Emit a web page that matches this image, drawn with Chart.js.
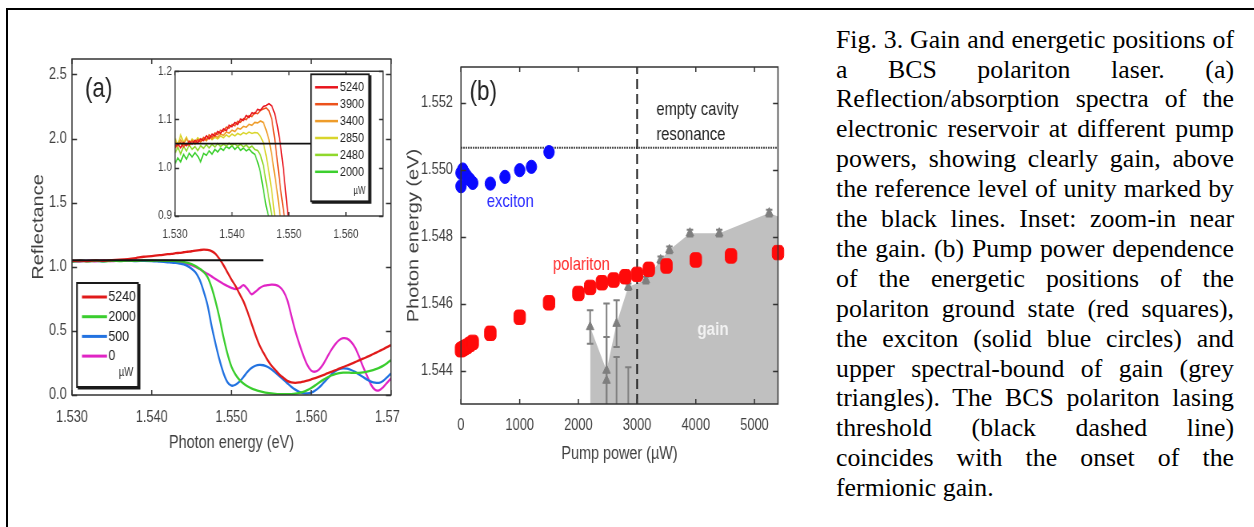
<!DOCTYPE html>
<html><head><meta charset="utf-8">
<script src="https://cdn.jsdelivr.net/npm/chart.js@4.4.1/dist/chart.umd.min.js"></script>
<style>
html,body{margin:0;padding:0;background:#fff;}
body{width:1254px;height:527px;position:relative;overflow:hidden;}
.frame{position:absolute;left:6px;top:8px;width:1300px;height:600px;border-top:2px solid #000;border-left:2px solid #000;}
canvas{position:absolute;transform:scaleX(0.8);transform-origin:0 0;}
#cap{position:absolute;left:836px;top:24.6px;width:398px;font-family:'Liberation Serif','Times New Roman',serif;font-size:25.8px;line-height:29.9px;color:#000;}
#cap div{text-align:justify;text-align-last:justify;}
#cap div.last{text-align-last:left;}
</style></head>
<body>
<div class="frame"></div>
<canvas id="cA" width="500" height="456" style="left:0;top:0"></canvas>
<canvas id="cI" width="328" height="190" style="left:130px;top:60px"></canvas>
<canvas id="cB" width="500" height="480" style="left:400px;top:0"></canvas>
<div id="cap">
<div>Fig. 3. Gain and energetic positions of</div>
<div>a BCS polariton laser. (a)</div>
<div>Reflection/absorption spectra of the</div>
<div>electronic reservoir at different pump</div>
<div>powers, showing clearly gain, above</div>
<div>the reference level of unity marked by</div>
<div>the black lines. Inset: zoom-in near</div>
<div>the gain. (b) Pump power dependence</div>
<div>of the energetic positions of the</div>
<div>polariton ground state (red squares),</div>
<div>the exciton (solid blue circles) and</div>
<div>upper spectral-bound of gain (grey</div>
<div>triangles). The BCS polariton lasing</div>
<div>threshold (black dashed line)</div>
<div>coincides with the onset of the</div>
<div class="last">fermionic gain.</div>
</div>
<script>
// ---------------- Panel (a): reflectance spectra ----------------
const mainEnergy = [1.530,1.531,1.532,1.533,1.534,1.535,1.536,1.537,1.538,1.539,1.540,1.541,1.542,
 1.5425,1.543,1.5435,1.544,1.5445,1.545,1.5455,1.546,1.5465,1.547,1.5475,1.548,1.5485,1.549,1.5495,1.550,
 1.5505,1.551,1.5515,1.552,1.5525,1.553,1.5535,1.554,1.5545,1.555,1.5555,1.556,1.5565,1.557,1.5575,1.558,
 1.5585,1.559,1.5595,1.560,1.5605,1.561,1.5615,1.562,1.5625,1.563,1.5635,1.564,1.5645,1.565,1.5655,1.566,
 1.5665,1.567,1.5675,1.568,1.5685,1.569,1.5695,1.570];
const refl5240 = [1.045,1.048,1.044,1.050,1.047,1.052,1.055,1.060,1.068,1.078,1.083,1.090,1.098,
 1.100,1.106,1.108,1.113,1.117,1.121,1.126,1.130,1.133,1.131,1.122,1.100,1.060,1.012,0.955,0.900,
 0.850,0.790,0.730,0.650,0.560,0.470,0.390,0.330,0.275,0.230,0.195,0.160,0.135,0.110,0.098,0.095,
 0.098,0.105,0.112,0.122,0.132,0.143,0.155,0.168,0.180,0.193,0.205,0.218,0.230,0.243,0.256,0.270,
 0.283,0.297,0.311,0.326,0.341,0.357,0.373,0.390];
const refl2000 = [1.040,1.045,1.042,1.046,1.043,1.047,1.045,1.048,1.046,1.049,1.047,1.048,1.046,
 1.047,1.045,1.042,1.038,1.030,1.020,1.005,0.985,0.960,0.920,0.840,0.730,0.600,0.450,0.320,0.220,
 0.160,0.118,0.090,0.068,0.052,0.040,0.030,0.022,0.016,0.012,0.009,0.007,0.006,0.006,0.007,0.010,
 0.016,0.025,0.038,0.055,0.075,0.097,0.118,0.137,0.152,0.163,0.170,0.174,0.175,0.173,0.172,0.173,
 0.176,0.182,0.190,0.200,0.212,0.227,0.248,0.273];
const refl500 = [1.042,1.048,1.044,1.047,1.043,1.048,1.046,1.049,1.045,1.047,1.045,1.040,1.035,
 1.032,1.030,1.025,1.018,1.005,0.985,0.955,0.900,0.810,0.700,0.540,0.400,0.273,0.170,0.100,0.073,
 0.080,0.104,0.140,0.180,0.210,0.228,0.235,0.232,0.220,0.200,0.175,0.148,0.120,0.092,0.065,0.042,
 0.025,0.015,0.012,0.018,0.035,0.060,0.092,0.125,0.158,0.185,0.202,0.208,0.205,0.195,0.180,0.160,
 0.140,0.120,0.105,0.096,0.095,0.110,0.138,0.169];
const refl0 = [1.045,1.040,1.047,1.043,1.049,1.044,1.048,1.046,1.050,1.047,1.049,1.046,1.048,
 1.045,1.042,1.036,1.030,1.022,1.012,0.998,0.982,0.962,0.945,0.925,0.905,0.885,0.865,0.850,0.836,
 0.826,0.834,0.856,0.828,0.786,0.805,0.832,0.850,0.856,0.860,0.858,0.845,0.810,0.740,0.620,0.500,
 0.400,0.310,0.235,0.190,0.182,0.200,0.240,0.295,0.350,0.395,0.428,0.443,0.440,0.415,0.370,0.300,
 0.220,0.150,0.080,0.040,0.036,0.060,0.095,0.130];
const mainPowers = ['5240','2000','500','0'];
const refLineX = [1.530, 1.554];
const refLineY = [1.05, 1.05];
const aXTicks = [1.530, 1.540, 1.550, 1.560, 1.570];
const aYTicks = [0, 0.5, 1.0, 1.5, 2.0, 2.5];

// ---------------- Inset ----------------
const insetEnergy = [1.530,1.5305,1.531,1.5315,1.532,1.5325,1.533,1.5335,1.534,1.5345,1.535,1.5355,1.536,
 1.5365,1.537,1.5375,1.538,1.5385,1.539,1.5395,1.540,1.5405,1.541,1.5415,1.542,1.5425,1.543,1.5435,1.544,
 1.5445,1.545,1.5455,1.546,1.5465,1.547,1.5475,1.548,1.5485,1.549,1.5495,1.550];
const ins5240 = [1.044,1.050,1.041,1.052,1.046,1.055,1.049,1.057,1.052,1.060,1.056,1.066,1.060,1.070,1.066,
 1.075,1.071,1.081,1.077,1.088,1.085,1.094,1.090,1.101,1.098,1.108,1.104,1.114,1.112,1.121,1.119,1.127,
 1.129,1.133,1.128,1.112,1.085,1.048,1.000,0.940,0.880];
const ins3900 = [1.040,1.048,1.052,1.043,1.050,1.046,1.056,1.051,1.058,1.054,1.063,1.058,1.068,1.063,1.072,
 1.069,1.078,1.075,1.084,1.082,1.090,1.087,1.096,1.094,1.102,1.100,1.108,1.106,1.114,1.112,1.119,1.122,
 1.124,1.118,1.100,1.060,1.010,0.958,0.915,0.870,0.850];
const ins3400 = [1.055,1.045,1.058,1.048,1.060,1.050,1.057,1.049,1.058,1.053,1.060,1.056,1.064,1.059,1.067,
 1.063,1.070,1.067,1.074,1.072,1.078,1.075,1.082,1.080,1.086,1.084,1.090,1.088,1.094,1.093,1.097,1.094,
 1.078,1.058,1.025,0.985,0.945,0.895,0.850,0.820,0.800];
const ins2850 = [1.062,1.048,1.068,1.052,1.063,1.050,1.060,1.054,1.062,1.056,1.061,1.057,1.064,1.058,1.063,
 1.060,1.066,1.062,1.068,1.064,1.070,1.066,1.071,1.068,1.073,1.070,1.074,1.071,1.073,1.072,1.065,1.052,
 1.025,0.990,0.950,0.900,0.860,0.830,0.810,0.800,0.800];
const ins2480 = [1.030,1.042,1.028,1.045,1.035,1.047,1.038,1.044,1.036,1.046,1.040,1.048,1.041,1.049,1.043,
 1.050,1.044,1.049,1.045,1.051,1.046,1.050,1.044,1.049,1.043,1.047,1.041,1.045,1.038,1.036,1.026,1.005,
 0.970,0.935,0.900,0.860,0.830,0.810,0.800,0.800,0.800];
const ins2000 = [1.008,1.020,1.012,1.028,1.018,1.030,1.022,1.031,1.024,1.012,1.030,1.026,1.035,1.028,1.038,
 1.033,1.041,1.036,1.044,1.040,1.046,1.038,1.044,1.036,1.041,1.035,1.039,1.032,1.028,1.012,0.990,0.955,
 0.920,0.895,0.860,0.830,0.810,0.800,0.800,0.800,0.800];
const insetPowers = ['5240','3900','3400','2850','2480','2000'];
const insXTicks = [1.530, 1.540, 1.550, 1.560];
const insYTicks = [0.9, 1.0, 1.1, 1.2];

// ---------------- Panel (b): energies vs pump power ----------------
const excitonPower  = [0, 0, 30, 60, 100, 150, 200, 500, 750, 1000, 1200, 1500];
const excitonEnergy = [1.5495, 1.5499, 1.5500, 1.5499, 1.5498, 1.5497, 1.5496, 1.54958, 1.54978, 1.54998, 1.55008, 1.55052];
const polPower  = [0, 30, 60, 100, 150, 200, 500, 1000, 1500, 2000, 2200, 2400, 2600, 2800, 3000, 3200, 3500, 4000, 4600, 5400];
const polEnergy = [1.54462, 1.54465, 1.54468, 1.54472, 1.54478, 1.54484, 1.54511, 1.54559, 1.54602, 1.5463, 1.54648, 1.54662,
                   1.5467, 1.5468, 1.54687, 1.54702, 1.54712, 1.5473, 1.54742, 1.54752];
const gainPower  = [2200, 2480, 2480, 2650, 2650, 2850, 2850, 3150, 3400, 3550, 3900, 4400, 5250];
const gainEnergy = [1.5453, 1.5440, 1.5437, 1.5454, 1.5424, 1.5421, 1.5465, 1.5467, 1.5473, 1.5476, 1.5481, 1.5481, 1.5487];
const gainErr    = [0.0005, 0.0020, 0.0013, 0.0007, 0.0020, 0.0020, 0.0001, 0.0001, 0.0001, 0.0001, 0.0001, 0.0001, 0.0001];
const gainEdgePower  = [2200, 2200, 2480, 2650, 2850, 3150, 3400, 3550, 3900, 4400, 5250, 5400];
const gainEdgeEnergy = [1.5430, 1.5453, 1.5440, 1.5454, 1.5465, 1.5467, 1.5473, 1.5476, 1.5481, 1.5481, 1.5487, 1.5486];
const cavityPower = [0, 5400];
const cavityEnergy = [1.55065, 1.55065];
const thresholdPower = [3000, 3000];
const thresholdEnergy = [1.543, 1.55306];
const bXTicks = [0, 1000, 2000, 3000, 4000, 5000];
const bYTicks = [1.544, 1.546, 1.548, 1.550, 1.552];

// ---------------- helpers & plugins ----------------
const FONT = "'Liberation Sans',Arial,sans-serif";
const TICKC = '#3f3f3f';
const pts = (xs, ys) => xs.map((x, i) => ({x: x, y: ys[i]}));
const setTicks = arr => s => { s.ticks = arr.map(v => ({value: v})); };

const boxTicks = {
  id: 'boxTicks',
  afterDraw(chart, args, o) {
    const {ctx, chartArea: a, scales} = chart;
    ctx.save();
    ctx.strokeStyle = o.color; ctx.lineWidth = o.width;
    ctx.beginPath();
    scales.x.ticks.forEach(t => {
      const p = scales.x.getPixelForValue(t.value);
      ctx.moveTo(p, a.bottom); ctx.lineTo(p, a.bottom - o.lenV);
      ctx.moveTo(p, a.top); ctx.lineTo(p, a.top + o.lenV);
    });
    scales.y.ticks.forEach(t => {
      const p = Math.round(scales.y.getPixelForValue(t.value)) + 0.5;
      ctx.moveTo(a.left, p); ctx.lineTo(a.left + o.lenH, p);
      ctx.moveTo(a.right, p); ctx.lineTo(a.right - o.lenH, p);
    });
    ctx.stroke();
    ctx.strokeRect(a.left, a.top, a.right - a.left, a.bottom - a.top);
    ctx.restore();
  }
};

const boxLegend = {
  id: 'boxLegend',
  afterDraw(chart, args, o) {
    if (!o || o.w === undefined) return;
    const ctx = chart.ctx;
    ctx.save();
    ctx.fillStyle = '#fff';
    ctx.fillRect(o.x, o.y, o.w, o.h);
    ctx.strokeStyle = '#1a1a1a'; ctx.lineWidth = o.border;
    ctx.strokeRect(o.x, o.y, o.w, o.h);
    ctx.lineWidth = o.border + 1;
    ctx.beginPath();
    ctx.moveTo(o.x + 1, o.y + o.h + 1); ctx.lineTo(o.x + o.w + 1.5, o.y + o.h + 1); ctx.lineTo(o.x + o.w + 1.5, o.y + 1);
    ctx.stroke();
    let row = 0;
    ctx.font = o.font; ctx.textBaseline = 'middle'; ctx.textAlign = 'left';
    chart.data.datasets.forEach(ds => {
      if (!ds.inLegend) return;
      const yy = o.rowY + row * o.rowDy;
      ctx.strokeStyle = ds.borderColor; ctx.lineWidth = o.lineW;
      ctx.beginPath(); ctx.moveTo(o.lineX0, yy); ctx.lineTo(o.lineX1, yy); ctx.stroke();
      ctx.fillStyle = '#222';
      ctx.fillText(ds.label, o.textX, yy);
      row++;
    });
    ctx.font = o.unitFont; ctx.textAlign = 'center'; ctx.fillStyle = '#333';
    ctx.fillText(o.unit, o.unitX, o.unitY);
    ctx.restore();
  }
};

const textMarks = {
  id: 'textMarks',
  afterDatasetsDraw(chart, args, o) {
    if (!o || !o.items) return;
    const {ctx, scales} = chart;
    ctx.save();
    o.items.forEach(it => {
      ctx.font = it.font; ctx.fillStyle = it.color;
      ctx.textAlign = it.align || 'center'; ctx.textBaseline = 'middle';
      ctx.fillText(it.text, scales.x.getPixelForValue(it.x), scales.y.getPixelForValue(it.y));
    });
    ctx.restore();
  }
};

const errorBars = {
  id: 'errorBars',
  afterDatasetDraw(chart, args) {
    const ds = chart.data.datasets[args.index];
    if (!ds.errors) return;
    const {ctx, scales, chartArea: a} = chart;
    ctx.save();
    ctx.beginPath(); ctx.rect(a.left, a.top, a.right - a.left, a.bottom - a.top); ctx.clip();
    ctx.strokeStyle = ds.borderColor; ctx.lineWidth = 2;
    ds.data.forEach((p, i) => {
      const e = ds.errors[i];
      const x = scales.x.getPixelForValue(p.x);
      const y1 = scales.y.getPixelForValue(p.y + e), y2 = scales.y.getPixelForValue(p.y - e);
      ctx.beginPath();
      ctx.moveTo(x, y1); ctx.lineTo(x, y2);
      ctx.moveTo(x - 4, y1); ctx.lineTo(x + 4, y1);
      ctx.moveTo(x - 4, y2); ctx.lineTo(x + 4, y2);
      ctx.stroke();
    });
    ctx.restore();
  }
};

const tickFont = size => ({family: FONT, size: size});
const lineDs = (label, xs, ys, color, width, order, extra) => Object.assign({
  label: label, data: pts(xs, ys), borderColor: color, backgroundColor: color,
  showLine: true, pointRadius: 0, borderWidth: width, order: order, fill: false
}, extra || {});

// ---------------- Chart (a) ----------------
new Chart(document.getElementById('cA'), {
  type: 'scatter',
  data: { datasets: [
    lineDs(mainPowers[0], mainEnergy, refl5240, '#e01a1a', 2.3, 1, {inLegend: true, tension: 0.3}),
    lineDs(mainPowers[1], mainEnergy, refl2000, '#3acd2e', 2.3, 2, {inLegend: true, tension: 0.3}),
    lineDs(mainPowers[2], mainEnergy, refl500,  '#2272e0', 2.3, 3, {inLegend: true, tension: 0.3}),
    lineDs(mainPowers[3], mainEnergy, refl0,    '#e024c4', 2.3, 4, {inLegend: true, tension: 0.3}),
    lineDs('reference', refLineX, refLineY, '#111', 2, 0)
  ]},
  options: {
    responsive: false, animation: false, devicePixelRatio: 1,
    layout: {padding: {left: 0, top: 59, right: 11.25, bottom: 2}},
    plugins: {
      legend: {display: false}, tooltip: {enabled: false},
      boxTicks: {color: '#333', width: 1.5, lenV: 5, lenH: 6.25},
      boxLegend: {x: 96.25, y: 283, w: 76.25, h: 104, border: 2, lineX0: 102.5, lineX1: 133.75, lineW: 3,
                  textX: 135.5, rowY: 297, rowDy: 19.7, font: '15.5px ' + FONT,
                  unit: 'µW', unitFont: '12px ' + FONT, unitX: 157.5, unitY: 373},
      textMarks: {items: [{text: '(a)', x: 1.53335, y: 2.383, font: '28px ' + FONT, color: '#222'}]}
    },
    scales: {
      x: { type: 'linear', min: 1.530, max: 1.570,
        afterBuildTicks: setTicks(aXTicks),
        afterFit(s) { s.height = 59; s.paddingLeft = 0; s.paddingRight = 0; },
        grid: {display: false, drawTicks: false}, border: {display: false},
        ticks: {font: tickFont(16), color: TICKC, padding: 12.5, maxRotation: 0, autoSkip: false,
                callback: v => v.toFixed(3)},
        title: {display: true, text: 'Photon energy (eV)', font: {family: FONT, size: 18}, color: TICKC,
                padding: {top: 0, bottom: 0}} },
      y: { type: 'linear', min: 0, max: 2.62,
        afterBuildTicks: setTicks(aYTicks),
        afterFit(s) { s.width = 90; },
        grid: {display: false, drawTicks: false}, border: {display: false},
        ticks: {font: tickFont(16), color: TICKC, padding: 6.6, autoSkip: false, callback: v => v.toFixed(1)},
        title: {display: true, text: 'Reflectance', font: {family: FONT, size: 20}, color: TICKC,
                padding: {top: 36.75, bottom: 0}} }
    }
  },
  plugins: [boxTicks, boxLegend, textMarks]
});

// ---------------- Inset ----------------
new Chart(document.getElementById('cI'), {
  type: 'scatter',
  data: { datasets: [
    lineDs(insetPowers[0], insetEnergy, ins5240, '#e8141c', 1.6, 1, {inLegend: true}),
    lineDs(insetPowers[1], insetEnergy, ins3900, '#ec521c', 1.6, 2, {inLegend: true}),
    lineDs(insetPowers[2], insetEnergy, ins3400, '#ee9c2a', 1.6, 3, {inLegend: true}),
    lineDs(insetPowers[3], insetEnergy, ins2850, '#d9d52c', 1.6, 4, {inLegend: true}),
    lineDs(insetPowers[4], insetEnergy, ins2480, '#90d82c', 1.6, 5, {inLegend: true}),
    lineDs(insetPowers[5], insetEnergy, ins2000, '#3ccf2e', 1.6, 6, {inLegend: true}),
    lineDs('reference', refLineX, refLineY, '#111', 1.8, 0)
  ]},
  options: {
    responsive: false, animation: false, devicePixelRatio: 1,
    layout: {padding: {left: 0, top: 11, right: 11.75, bottom: 4}},
    plugins: {
      legend: {display: false}, tooltip: {enabled: false},
      boxTicks: {color: '#333', width: 1.4, lenV: 4, lenH: 5},
      boxLegend: {x: 226.25, y: 14.3, w: 72.5, h: 127, border: 1.8, lineX0: 231.25, lineX1: 260, lineW: 2.5,
                  textX: 262.5, rowY: 27.3, rowDy: 16.9, font: '13.5px ' + FONT,
                  unit: 'µW', unitFont: '10px ' + FONT, unitX: 286.9, unitY: 131}
    },
    scales: {
      x: { type: 'linear', min: 1.530, max: 1.5665,
        afterBuildTicks: setTicks(insXTicks),
        afterFit(s) { s.height = 30; s.paddingLeft = 0; s.paddingRight = 0; },
        grid: {display: false, drawTicks: false}, border: {display: false},
        ticks: {font: tickFont(12.5), color: TICKC, padding: 11, maxRotation: 0, autoSkip: false,
                callback: v => v.toFixed(3)} },
      y: { type: 'linear', min: 0.9, max: 1.2,
        afterBuildTicks: setTicks(insYTicks),
        afterFit(s) { s.width = 56.25; },
        grid: {display: false, drawTicks: false}, border: {display: false},
        ticks: {font: tickFont(12.5), color: TICKC, padding: 3.75, autoSkip: false, callback: v => v.toFixed(1)} }
    }
  },
  plugins: [boxTicks, boxLegend]
});

// ---------------- Chart (b) ----------------
new Chart(document.getElementById('cB'), {
  type: 'scatter',
  data: { datasets: [
    lineDs('gain region', gainEdgePower, gainEdgeEnergy, '#c0c0c0', 0, 10, {fill: 'start', backgroundColor: '#c0c0c0'}),
    {label: 'gain bound', data: pts(gainPower, gainEnergy), errors: gainErr, pointStyle: 'triangle', pointRadius: 5.5,
     backgroundColor: '#7f7f7f', borderColor: '#7f7f7f', borderWidth: 1, order: 6},
    lineDs('cavity', cavityPower, cavityEnergy, '#111', 2, 5, {borderDash: [1.5, 1.5]}),
    lineDs('threshold', thresholdPower, thresholdEnergy, '#111', 2, 4, {borderDash: [10, 5]}),
    {label: 'exciton', data: pts(excitonPower, excitonEnergy), pointStyle: 'circle', pointRadius: 6.6,
     backgroundColor: '#0a0aff', borderColor: '#0a0aff', borderWidth: 1, order: 2, clip: false},
    {label: 'polariton', data: pts(polPower, polEnergy), pointStyle: 'rectRounded', pointRadius: 8.4,
     backgroundColor: '#ff0a0a', borderColor: '#ff0a0a', borderWidth: 1, order: 1, clip: false}
  ]},
  options: {
    responsive: false, animation: false, devicePixelRatio: 1,
    layout: {padding: {left: 0, top: 67, right: 27.5, bottom: 15}},
    plugins: {
      legend: {display: false}, tooltip: {enabled: false},
      boxTicks: {color: '#333', width: 1.5, lenV: 5, lenH: 6.25},
      textMarks: {items: [
        {text: '(b)', x: 380, y: 1.55232, font: '28px ' + FONT, color: '#222'},
        {text: 'exciton', x: 840, y: 1.54904, font: '18.5px ' + FONT, color: '#2a2aff'},
        {text: 'polariton', x: 2051, y: 1.54715, font: '18.5px ' + FONT, color: '#ff2a2a'},
        {text: 'gain', x: 4293, y: 1.54523, font: 'bold 19px ' + FONT, color: '#f2f2f2'},
        {text: 'empty cavity', x: 3327, y: 1.55179, font: '18.5px ' + FONT, color: '#222', align: 'left'},
        {text: 'resonance', x: 3327, y: 1.55104, font: '18.5px ' + FONT, color: '#222', align: 'left'}
      ]}
    },
    scales: {
      x: { type: 'linear', min: 0, max: 5400,
        afterBuildTicks: setTicks(bXTicks),
        afterFit(s) { s.height = 61; s.paddingLeft = 0; s.paddingRight = 0; },
        grid: {display: false, drawTicks: false}, border: {display: false},
        ticks: {font: tickFont(16), color: TICKC, padding: 11.5, maxRotation: 0, autoSkip: false,
                callback: v => String(v)},
        title: {display: true, text: 'Pump power (µW)', font: {family: FONT, size: 18}, color: TICKC,
                padding: {top: 0, bottom: 0}} },
      y: { type: 'linear', min: 1.543, max: 1.55306,
        afterBuildTicks: setTicks(bYTicks),
        afterFit(s) { s.width = 76.25; },
        grid: {display: false, drawTicks: false}, border: {display: false},
        ticks: {font: tickFont(16), color: TICKC, padding: 10, autoSkip: false, callback: v => v.toFixed(3)},
        title: {display: true, text: 'Photon energy (eV)', font: {family: FONT, size: 20}, color: TICKC,
                padding: {top: 5.5, bottom: 0}} }
    }
  },
  plugins: [boxTicks, errorBars, textMarks]
});
</script>
</body></html>
